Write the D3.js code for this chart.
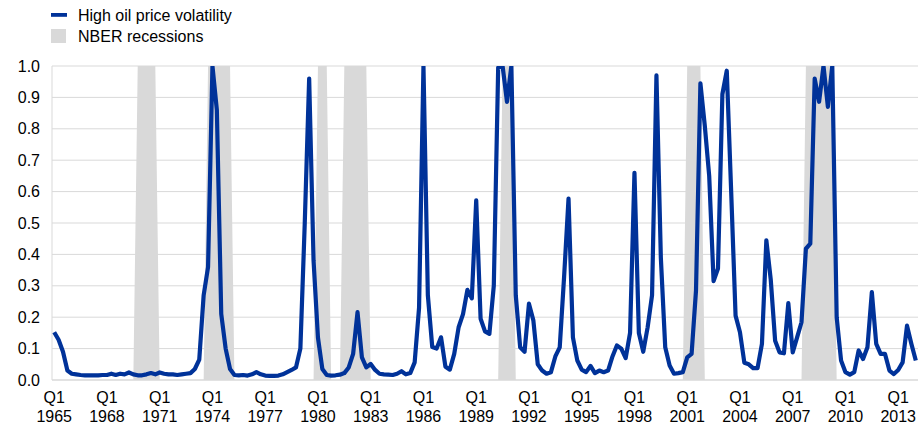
<!DOCTYPE html>
<html>
<head>
<meta charset="utf-8">
<script src="https://cdn.jsdelivr.net/npm/d3@7/dist/d3.min.js"></script>
<style>
  html, body { margin: 0; padding: 0; background: #fff; }
  svg { display: block; font-family: "Liberation Sans", Arial, sans-serif; }
</style>
</head>
<body>
<svg id="chart" width="918" height="425"></svg>
<script>
// ---- data ----
const startYear = 1965;
const nQuarters = 197; // 1965 Q1 .. 2014 Q1
const quarters = d3.range(nQuarters).map(i => `${startYear + Math.floor(i / 4)} Q${(i % 4) + 1}`);

const volatility = [
  0.152, 0.128, 0.09, 0.03, 0.02, 0.018, 0.016, 0.015, 0.015, 0.015,
  0.015, 0.016, 0.016, 0.02, 0.016, 0.02, 0.018, 0.024, 0.018, 0.015,
  0.015, 0.018, 0.022, 0.018, 0.024, 0.02, 0.018, 0.018, 0.016, 0.018,
  0.02, 0.022, 0.035, 0.065, 0.27, 0.36, 1.0, 0.86, 0.21, 0.10,
  0.035, 0.016, 0.015, 0.016, 0.014, 0.018, 0.025, 0.018, 0.014, 0.013,
  0.013, 0.014, 0.018, 0.025, 0.032, 0.04, 0.10, 0.5, 0.96, 0.38,
  0.135, 0.035, 0.016, 0.014, 0.015, 0.017, 0.022, 0.04, 0.083, 0.216,
  0.072, 0.04, 0.051, 0.032, 0.02, 0.018, 0.017, 0.016, 0.02, 0.028,
  0.018, 0.022, 0.056, 0.23, 1.0, 0.27, 0.105, 0.1, 0.136, 0.042,
  0.033, 0.083, 0.168, 0.21, 0.287, 0.26, 0.572, 0.195, 0.155, 0.147,
  0.30, 0.995, 1.0, 0.886, 1.0, 0.27, 0.104, 0.09, 0.243, 0.19,
  0.05, 0.03, 0.02, 0.025, 0.075, 0.104, 0.33, 0.578, 0.136, 0.062,
  0.033, 0.025, 0.045, 0.022, 0.03, 0.025, 0.03, 0.075, 0.11, 0.1,
  0.07, 0.15, 0.66, 0.15, 0.09, 0.168, 0.27, 0.97, 0.39, 0.104,
  0.046, 0.02, 0.022, 0.025, 0.072, 0.083, 0.285, 0.945, 0.81, 0.65,
  0.315, 0.355, 0.91, 0.985, 0.6, 0.205, 0.152, 0.055, 0.05, 0.038,
  0.038, 0.115, 0.445, 0.32, 0.125, 0.088, 0.085, 0.245, 0.088, 0.136,
  0.184, 0.418, 0.434, 0.96, 0.886, 1.0, 0.87, 1.0, 0.2, 0.062,
  0.025, 0.017, 0.025, 0.094, 0.067, 0.104, 0.28, 0.115, 0.083, 0.083,
  0.03, 0.019, 0.032, 0.056, 0.173, 0.115, 0.062
];

// NBER recessions (first and last quarter)
const recessions = [
  ["1969 Q4", "1970 Q4"],
  ["1973 Q4", "1975 Q1"],
  ["1980 Q1", "1980 Q3"],
  ["1981 Q3", "1982 Q4"],
  ["1990 Q3", "1991 Q1"],
  ["2001 Q1", "2001 Q4"],
  ["2007 Q4", "2009 Q2"]
];

const yTicks = [0, 0.1, 0.2, 0.3, 0.4, 0.5, 0.6, 0.7, 0.8, 0.9, 1.0];
const xTickQuarters = ["1965 Q1","1968 Q1","1971 Q1","1974 Q1","1977 Q1","1980 Q1","1983 Q1","1986 Q1","1989 Q1","1992 Q1","1995 Q1","1998 Q1","2001 Q1","2004 Q1","2007 Q1","2010 Q1","2013 Q1"];

const legendItems = ["High oil price volatility", "NBER recessions"];

// ---- layout ----
const plotLeft = 52, plotRight = 918, plotTop = 66, plotBottom = 380;
const blue = "#003299", grey = "#d9d9d9";

const svg = d3.select("#chart");

const x = d3.scalePoint().domain(quarters).range([plotLeft, plotRight]).padding(0.5);
const y = d3.scaleLinear().domain([0, 1]).range([plotBottom, plotTop]);

const qIndex = new Map(quarters.map((q, i) => [q, i]));
const recFlag = quarters.map(() => 0);
recessions.forEach(([a, b]) => {
  for (let i = qIndex.get(a); i <= qIndex.get(b); i++) recFlag[i] = 1;
});

// clip
svg.append("defs").append("clipPath").attr("id", "plotclip")
  .append("rect").attr("x", plotLeft).attr("y", plotTop)
  .attr("width", plotRight - plotLeft).attr("height", plotBottom - plotTop);

// gridlines
svg.append("g").selectAll("line").data(yTicks).join("line")
  .attr("x1", plotLeft).attr("x2", plotRight)
  .attr("y1", d => y(d)).attr("y2", d => y(d))
  .attr("stroke", grey).attr("stroke-width", d => d === 0 ? 1.5 : 1);

// left axis line
svg.append("line").attr("x1", plotLeft).attr("x2", plotLeft).attr("y1", y(1)).attr("y2", y(0))
  .attr("stroke", grey).attr("stroke-width", 1);

// recession area
const area = d3.area()
  .x((d, i) => x(quarters[i]))
  .y0(y(0))
  .y1(d => y(d));
svg.append("path").datum(recFlag)
  .attr("d", area)
  .attr("fill", grey);

// line
const line = d3.line()
  .x((d, i) => x(quarters[i]))
  .y(d => y(d));
svg.append("path").datum(volatility)
  .attr("clip-path", "url(#plotclip)")
  .attr("d", line)
  .attr("fill", "none")
  .attr("stroke", blue)
  .attr("stroke-width", 4.2)
  .attr("stroke-linejoin", "round")
  .attr("stroke-linecap", "butt");

// y labels
svg.append("g").selectAll("text").data(yTicks).join("text")
  .attr("x", 40).attr("y", d => y(d) + 5.5)
  .attr("text-anchor", "end")
  .attr("font-size", 16).attr("fill", "#000")
  .text(d => d3.format(".1f")(d));

// x labels
const xl = svg.append("g").selectAll("g").data(xTickQuarters).join("g")
  .attr("transform", d => `translate(${x(d)},0)`);
xl.append("text").attr("y", 403).attr("text-anchor", "middle")
  .attr("font-size", 16).attr("fill", "#000")
  .text(d => d.split(" ")[1]);
xl.append("text").attr("y", 422).attr("text-anchor", "middle")
  .attr("font-size", 16).attr("fill", "#000")
  .text(d => d.split(" ")[0]);

// legend
const lg = svg.append("g");
lg.append("rect").attr("x", 51).attr("y", 13).attr("width", 16).attr("height", 3.8).attr("fill", blue);
lg.append("rect").attr("x", 51).attr("y", 29).attr("width", 15).attr("height", 14).attr("fill", grey);
lg.selectAll("text").data(legendItems).join("text")
  .attr("x", 78).attr("y", (d, i) => 20.5 + i * 21)
  .attr("font-size", 16).attr("fill", "#000")
  .text(d => d);
</script>
</body>
</html>
